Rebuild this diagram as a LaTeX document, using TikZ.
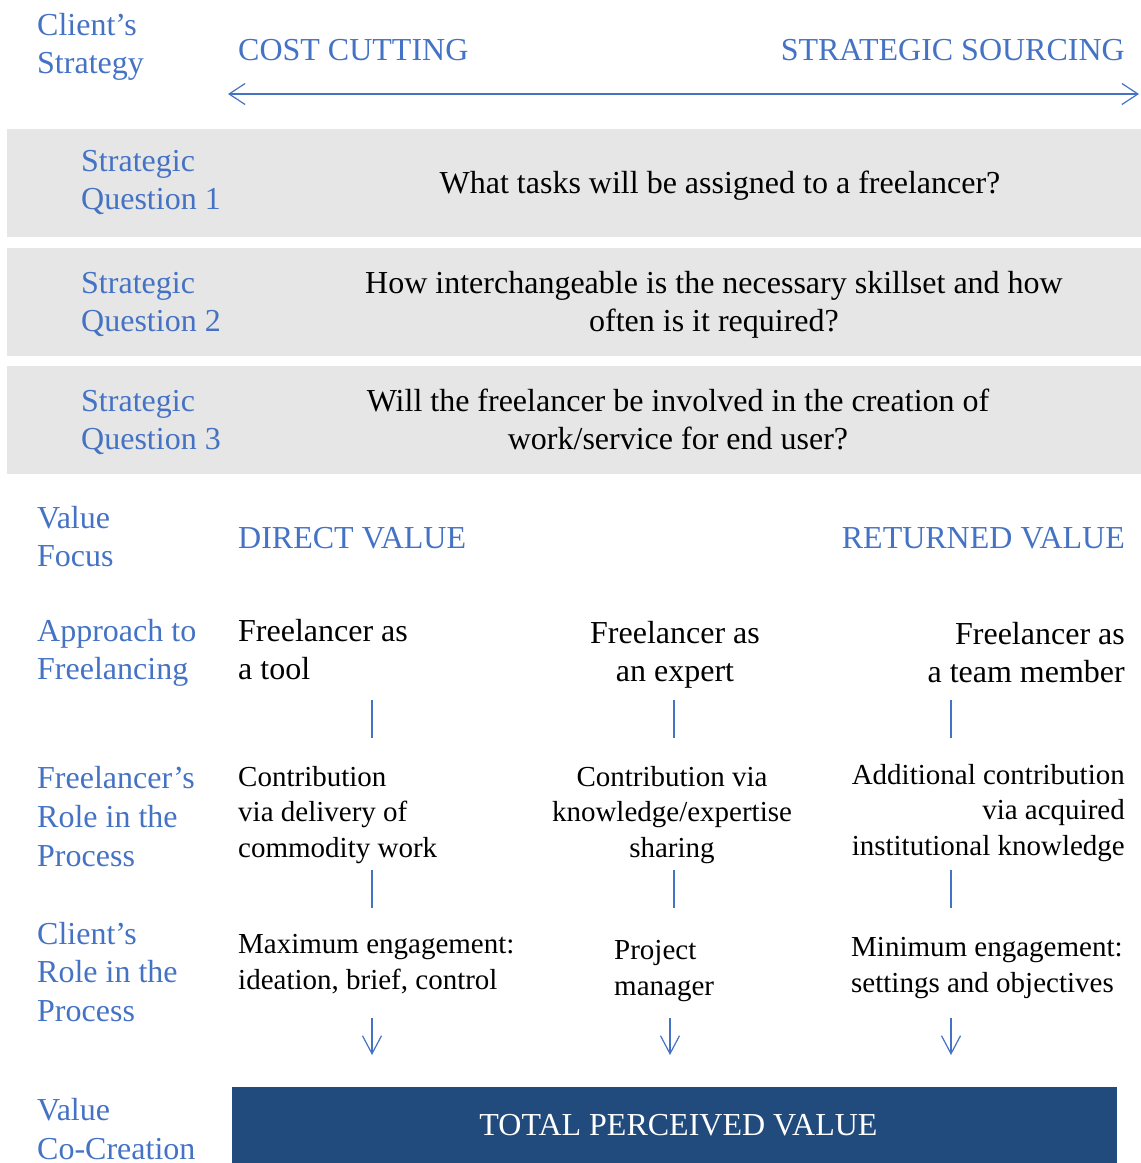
\documentclass[tikz,border=0pt]{standalone}
\usepackage{fontspec}
\setmainfont{Liberation Serif}
\usetikzlibrary{arrows.meta}
\definecolor{lblue}{HTML}{4472C4}
\definecolor{bargrey}{HTML}{E6E6E6}
\definecolor{boxblue}{RGB}{33,74,125}
\begin{document}
\begin{tikzpicture}[x=1pt,y=-1pt,
  big/.style={inner sep=0pt, font=\fontsize{32}{38.5}\selectfont},
  small/.style={inner sep=0pt, font=\fontsize{29}{35.5}\selectfont},
  lab/.style={big, text=lblue, anchor=north west, align=left},
  labsp/.style={inner sep=0pt, font=\fontsize{32}{39}\selectfont, text=lblue, anchor=north west, align=left},
  txtl/.style={anchor=north west, align=left},
  txtc/.style={anchor=north, align=center},
  txtr/.style={anchor=north east, align=right},
  link/.style={draw=lblue, line width=1.2pt},
  flow/.style={draw=lblue, line width=1.2pt, -{Straight Barb[length=18pt,width=19pt,line width=1.2pt]}},
  span/.style={draw=lblue, line width=1.2pt, {Straight Barb[length=16pt,width=21pt,line width=1.2pt]}-{Straight Barb[length=16pt,width=21pt,line width=1.2pt]}},
  totalbox/.style={fill=boxblue, text=white, inner sep=0pt, minimum width=885pt, minimum height=76pt, font=\fontsize{32}{38.5}\selectfont}
]
\useasboundingbox (0,0) rectangle (1141,1163);

% grey bars
\fill[bargrey] (7,129) rectangle (1141,237);
\fill[bargrey] (7,248) rectangle (1141,356);
\fill[bargrey] (7,366) rectangle (1141,474);

% row 0: client's strategy
\node[lab] (cs) at (37,8) {\strut Client’s\\Strategy};
\node[lab, big] (costcut) at (238,33) {\strut COST CUTTING};
\node[big, text=lblue, anchor=north east] (strsrc) at (1125,33) {\strut STRATEGIC SOURCING};
\coordinate (spanL) at (228,94);
\coordinate (spanR) at (1139,94);
\draw[span] (spanL) -- (spanR);

% strategic questions
\node[lab] (sq1) at (81,144) {\strut Strategic\\Question 1};
\node[big, txtc] (q1) at (720,166) {\strut What tasks will be assigned to a freelancer?};
\node[lab] (sq2) at (81,266) {\strut Strategic\\Question 2};
\node[big, txtc] (q2) at (714,266) {\strut How interchangeable is the necessary skillset and how\\often is it required?};
\node[lab] (sq3) at (81,384) {\strut Strategic\\Question 3};
\node[big, txtc] (q3) at (678,384) {\strut Will the freelancer be involved in the creation of\\work/service for end user?};

% value focus
\node[lab] (vf) at (37,501) {\strut Value\\Focus};
\node[lab] (direct) at (238,521) {\strut DIRECT VALUE};
\node[big, text=lblue, anchor=north east] (returned) at (1125,521) {\strut RETURNED VALUE};

% approach to freelancing
\node[lab] (af) at (37,614) {\strut Approach to\\Freelancing};
\node[big, txtl] (tool) at (238,614) {\strut Freelancer as\\a tool};
\node[big, txtc] (expert) at (675,616) {\strut Freelancer as\\an expert};
\node[big, txtr] (team) at (1125,617) {\strut Freelancer as\\a team member};

\coordinate (a1t) at (372,700); \coordinate (a1b) at (372,738);
\coordinate (a2t) at (674,700); \coordinate (a2b) at (674,738);
\coordinate (a3t) at (951,700); \coordinate (a3b) at (951,738);
\draw[link] (a1t) -- (a1b);
\draw[link] (a2t) -- (a2b);
\draw[link] (a3t) -- (a3b);

% freelancer's role
\node[labsp] (frp) at (37,761) {\strut Freelancer’s\\Role in the\\Process};
\node[small, txtl] (c1) at (238,761) {\strut Contribution\\via delivery of\\commodity work};
\node[small, txtc] (c2) at (672,761) {\strut Contribution via\\knowledge/expertise\\sharing};
\node[small, txtr] (c3) at (1125,759) {\strut Additional contribution\\via acquired\\institutional knowledge};

\coordinate (b1t) at (372,870); \coordinate (b1b) at (372,908);
\coordinate (b2t) at (674,870); \coordinate (b2b) at (674,908);
\coordinate (b3t) at (951,870); \coordinate (b3b) at (951,908);
\draw[link] (b1t) -- (b1b);
\draw[link] (b2t) -- (b2b);
\draw[link] (b3t) -- (b3b);

% client's role
\node[lab] (crp) at (37,917) {\strut Client’s\\Role in the\\Process};
\node[inner sep=0pt, font=\fontsize{29}{36}\selectfont, txtl] (maxeng) at (238,928) {\strut Maximum engagement:\\ideation, brief, control};
\node[inner sep=0pt, font=\fontsize{29}{36}\selectfont, txtl] (pm) at (614,934) {\strut Project\\manager};
\node[inner sep=0pt, font=\fontsize{29}{36}\selectfont, txtl] (mineng) at (851,931) {\strut Minimum engagement:\\settings and objectives};

\coordinate (d1t) at (372,1018); \coordinate (d1b) at (372,1055);
\coordinate (d2t) at (670,1018); \coordinate (d2b) at (670,1055);
\coordinate (d3t) at (951,1018); \coordinate (d3b) at (951,1055);
\draw[flow] (d1t) -- (d1b);
\draw[flow] (d2t) -- (d2b);
\draw[flow] (d3t) -- (d3b);

% value co-creation
\node[labsp] (vcc) at (37,1093) {\strut Value\\Co-Creation};
\node[totalbox] (total) at (674.5,1125) {\hspace*{8pt}TOTAL PERCEIVED VALUE};
\end{tikzpicture}
\end{document}
